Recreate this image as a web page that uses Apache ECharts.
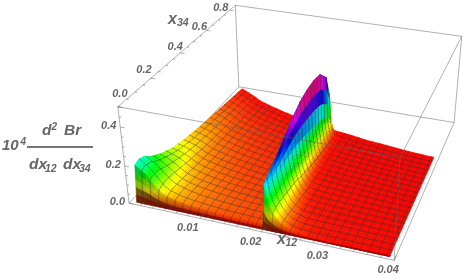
<!DOCTYPE html>
<html><head><meta charset="utf-8">
<style>html,body{margin:0;padding:0;background:#fff}#c{width:463px;height:279px}</style>
<script src="https://cdn.jsdelivr.net/npm/echarts@6/dist/echarts.min.js"></script>
</head><body><div id="c"></div>
<script>
// ---- data ----
var x12Ticks = [0.01, 0.02, 0.03, 0.04];
var x34Ticks = [0.0, 0.2, 0.4, 0.6, 0.8];
var zTicks = [0.0, 0.2, 0.4];
var x12Samples = [-0.001,0.0008,0.002,0.003,0.004,0.006,0.008,0.010,0.012,0.014,0.016,0.018,0.0199,
                  0.0201,0.0205,0.021,0.0215,0.022,0.0225,0.023,0.024,0.025,0.027,0.03,0.035,0.0392];
var rowFractions = [0,0.015,0.04,0.08,0.14,0.2,0.3,0.4,0.5,0.6,0.7,0.8,0.9,0.96,1];
var x34Back = [0.837,0.815,0.80,0.785,0.77,0.75,0.732,0.715,0.70,0.685,0.672,0.66,0.648,
               0.648,0.646,0.645,0.643,0.642,0.64,0.638,0.635,0.63,0.62,0.612,0.595,0.587];
var br = [
[0,.19,.20,.19,.15,.12,.085,.065,.05,.04,.03,.021,.012,.006,.001],
[0,.15,.16,.15,.125,.105,.078,.06,.047,.037,.029,.02,.011,.0055,.001],
[0,.105,.115,.115,.10,.088,.068,.054,.043,.034,.026,.018,.010,.005,.001],
[0,.075,.08,.085,.08,.07,.056,.045,.037,.03,.023,.016,.009,.0045,.001],
[0,.055,.062,.065,.062,.056,.046,.038,.032,.026,.02,.014,.008,.004,.001],
[0,.04,.045,.047,.045,.041,.036,.03,.026,.021,.017,.012,.007,.0035,.001],
[0,.032,.036,.037,.036,.033,.029,.025,.021,.018,.014,.01,.006,.003,.001],
[0,.027,.03,.031,.03,.028,.024,.021,.018,.015,.012,.009,.0055,.003,.001],
[0,.023,.026,.027,.026,.024,.021,.018,.016,.013,.011,.008,.005,.003,.001],
[0,.021,.023,.024,.023,.021,.019,.016,.014,.012,.01,.007,.0045,.0025,.001],
[0,.019,.021,.022,.021,.019,.017,.014,.012,.01,.009,.0065,.004,.0025,.001],
[0,.018,.019,.02,.019,.018,.015,.013,.011,.009,.008,.006,.004,.002,.001],
[0,.017,.018,.019,.018,.017,.014,.012,.01,.009,.007,.0055,.0035,.002,.001],
[0,.22,.24,.25,.27,.29,.33,.37,.40,.415,.42,.41,.35,.22,.001],
[0,.16,.175,.18,.186,.191,.20,.198,.185,.17,.155,.135,.10,.06,.001],
[0,.115,.125,.128,.129,.126,.121,.106,.086,.066,.055,.043,.026,.015,.001],
[0,.085,.09,.092,.089,.083,.074,.057,.04,.027,.02,.014,.008,.005,.001],
[0,.062,.066,.066,.061,.055,.045,.03,.018,.011,.0075,.005,.004,.003,.001],
[0,.046,.048,.047,.042,.036,.027,.016,.0085,.0065,.005,.004,.003,.002,.001],
[0,.034,.035,.034,.029,.024,.0165,.0085,.0055,.0045,.004,.003,.0025,.002,.001],
[0,.019,.019,.018,.014,.0105,.006,.005,.004,.0035,.003,.0025,.002,.0015,.001],
[0,.012,.011,.01,.008,.006,.005,.004,.0035,.003,.0025,.002,.0015,.001,.001],
[0,.006,.006,.006,.005,.0045,.004,.0035,.003,.0025,.002,.002,.0015,.001,.001],
[0,.004,.004,.004,.0035,.003,.003,.0025,.002,.002,.0015,.0015,.001,.001,.0005],
[0,.003,.003,.003,.0025,.0025,.002,.002,.0015,.0015,.001,.001,.001,.0005,.0005],
[0,.002,.002,.002,.002,.002,.0015,.0015,.001,.001,.001,.0005,.0005,.0005,.0005]
];
// ---- view of the 3D box ----
var X12MIN=-0.002, X12MAX=0.04, X34MAX=0.85, ZMAX=0.5, X34MIN=0.012, HUEMAX=0.42;
var camera = [ // u,v,w -> px, py
 [0,0,0,129,203],[1,0,0,394,261],[0,1,0,239,87],[1,1,0,454,122],
 [0,0,1,118,107],[1,0,1,400,157],[0,1,1,235,5],[1,1,1,462,37]];
var P=(function(){
  var A=[],b=[];
  camera.forEach(function(c){var u=c[0],v=c[1],w=c[2],x=c[3],y=c[4];
    A.push([u,v,w,1,0,0,0,0,-x*u,-x*v,-x*w]);b.push(x);
    A.push([0,0,0,0,u,v,w,1,-y*u,-y*v,-y*w]);b.push(y);});
  var n=11,M=[];
  for(var i=0;i<n;i++){M[i]=[];for(var j=0;j<n;j++){var s=0;for(var k=0;k<A.length;k++)s+=A[k][i]*A[k][j];M[i][j]=s;}
    var r=0;for(k=0;k<A.length;k++)r+=A[k][i]*b[k];M[i][n]=r;}
  for(i=0;i<n;i++){var p=i;for(j=i+1;j<n;j++)if(Math.abs(M[j][i])>Math.abs(M[p][i]))p=j;
    var t=M[i];M[i]=M[p];M[p]=t;
    for(j=0;j<n;j++)if(j!==i){var f=M[j][i]/M[i][i];for(k=i;k<=n;k++)M[j][k]-=f*M[i][k];}}
  var out=[];for(i=0;i<n;i++)out[i]=M[i][n]/M[i][i];return out;})();
function proj(u,v,w){var d=P[8]*u+P[9]*v+P[10]*w+1;
  return [(P[0]*u+P[1]*v+P[2]*w+P[3])/d,(P[4]*u+P[5]*v+P[6]*w+P[7])/d];}
function uOf(x){return (x-X12MIN)/(X12MAX-X12MIN);}

// ---- surface lookup ----
function seg(a,x){var i=0;while(i<a.length-2&&x>a[i+1])i++;var f=(x-a[i])/(a[i+1]-a[i]);return [i,Math.max(0,Math.min(1,f))];}
function point(x12,t){
  var c=seg(x12Samples,x12),r=seg(rowFractions,t),i=c[0],j=r[0],f=c[1],g=r[1];
  var z=(br[i][j]*(1-f)+br[i+1][j]*f)*(1-g)+(br[i][j+1]*(1-f)+br[i+1][j+1]*f)*g;
  var back=x34Back[i]*(1-f)+x34Back[i+1]*f;
  var x34=X34MIN+t*(back-X34MIN);
  return {u:uOf(x12),v:x34/X34MAX,w:z/ZMAX,z:z};
}
function uniq(a){a=a.slice().sort(function(p,q){return p-q});var o=[];a.forEach(function(x){if(!o.length||x-o[o.length-1]>1e-7)o.push(x)});return o;}
function refine(a,gap){var o=[];a.forEach(function(x,i){o.push(x);if(i<a.length-1&&a[i+1]-x>gap)o.push((x+a[i+1])/2)});return o;}
var meshX=[],meshT=[],i,j;
var MESHSTEP=0.04/30;
for(i=-15;0.0201+i*MESHSTEP<0.0392;i++){var mx=0.0201+i*MESHSTEP;if(mx>-0.001&&i!==0)meshX.push(mx);}
for(i=1;i<20;i++)meshT.push(i/20);
var fineX=[];for(i=1;i<30;i++)fineX.push(0.0201+i*0.00012);
var fineT=[0.003,0.006,0.009,0.012,0.025];
var gridX=refine(uniq(x12Samples.concat(meshX,fineX)),0.0007);
var gridT=refine(uniq(rowFractions.concat(meshT,fineT)),0.03);
function onMesh(a,x){return a.some(function(m){return Math.abs(m-x)<1e-7});}
var gridPts=gridX.map(function(x){return gridT.map(function(t){return point(x,t)})});
var cells=[];
for(i=0;i<gridX.length-1;i++)for(j=gridT.length-2;j>=0;j--)cells.push([i,j]);

function hsv(h,b){h=((h%1)+1)%1;var k=h*6,s=Math.floor(k),f=k-s,q=1-f,t=f;
  var rgb=[[1,t,0],[q,1,0],[0,1,t],[0,q,1],[t,0,1],[1,0,q]][s%6];
  return 'rgb('+rgb.map(function(c){return Math.round(c*b*255)}).join(',')+')';}
var L=[0.7,0.45,0.9];
function shade(a,b,c,d,tLow){
  var sx=2.6,sy=1.6,sz=1; // box proportions
  var e1=[(c.u-a.u)*sx,(c.v-a.v)*sy,(c.w-a.w)*sz],e2=[(d.u-b.u)*sx,(d.v-b.v)*sy,(d.w-b.w)*sz];
  var n=[e1[1]*e2[2]-e1[2]*e2[1],e1[2]*e2[0]-e1[0]*e2[2],e1[0]*e2[1]-e1[1]*e2[0]];
  var m=Math.sqrt(n[0]*n[0]+n[1]*n[1]+n[2]*n[2])||1;
  if(n[2]<0)m=-m;
  var dot=(n[0]/m*L[0]+Math.abs(n[1]/m)*L[1]+n[2]/m*L[2]);
  var s=Math.min(1,Math.max(0.4,0.42+0.6*Math.max(0,dot)));
  return tLow<0.006?s*0.6:s;
}
var MESH='rgba(50,50,50,0.6)';
function px(p){return proj(p.u,p.v,p.w);}
function renderCell(params,api){
  var ci=api.value(0),cj=api.value(1);
  var a=gridPts[ci][cj],b=gridPts[ci+1][cj],c=gridPts[ci+1][cj+1],d=gridPts[ci][cj+1];
  var pa=px(a),pb=px(b),pc=px(c),pd=px(d);
  var z=(a.z+b.z+c.z+d.z)/4;
  var fill=hsv(z/HUEMAX,shade(a,b,c,d,gridT[cj]));
  var kids=[{type:'polygon',shape:{points:[pa,pb,pc,pd]},style:{fill:fill,stroke:fill,lineWidth:0.6}}];
  function line(p,q){kids.push({type:'line',shape:{x1:p[0],y1:p[1],x2:q[0],y2:q[1]},style:{stroke:MESH,lineWidth:0.7,fill:null}});}
  if(onMesh(meshT,gridT[cj]))line(pa,pb);
  if(onMesh(meshT,gridT[cj+1]))line(pd,pc);
  if(onMesh(meshX,gridX[ci]))line(pa,pd);
  if(onMesh(meshX,gridX[ci+1]))line(pb,pc);
  return {type:'group',children:kids};
}
// ---- box and axes ----
var BOX='rgba(100,100,100,0.5)';
var backEdges=[[0,0,0,0,1,0],[0,1,0,1,1,0],[0,1,0,0,1,1],[1,1,0,1,1,1],[1,0,0,1,1,0]];
var frontEdges=[[0,0,0,1,0,0],[0,0,0,0,0,1],[0,0,1,1,0,1],[1,0,0,1,0,1],[0,0,1,0,1,1],[0,1,1,1,1,1],[1,0,1,1,1,1]];
function renderEdge(params,api){
  var p=proj(api.value(0),api.value(1),api.value(2)),q=proj(api.value(3),api.value(4),api.value(5));
  return {type:'line',shape:{x1:p[0],y1:p[1],x2:q[0],y2:q[1]},style:{stroke:BOX,lineWidth:1,fill:null}};
}
var tickEdges=[];
function addTicks(step,end,major,fn){for(var k=0;k<=Math.round(end/step);k++){var val=k*step;
  var isMajor=Math.abs(val/major-Math.round(val/major))<1e-6;fn(val,isMajor?0.018:0.009);}}
addTicks(0.002,0.04,0.01,function(x,l){var u=uOf(x);tickEdges.push([u,0,0,u,l*1.6,0]);});
addTicks(0.05,0.8,0.2,function(x,l){tickEdges.push([0,x/X34MAX,1,l,x/X34MAX,1]);});
addTicks(0.05,0.5,0.2,function(x,l){tickEdges.push([0,0,x/ZMAX,l,0,x/ZMAX]);});

var GRAY='#666';
var FONT='"Liberation Sans"';
function txt(s,x,y,size,align){return {type:'text',x:x,y:y,silent:true,style:{text:s,fill:GRAY,font:'italic bold '+size+'px '+FONT,textAlign:align||'left',textVerticalAlign:'middle'}};}
var texts=[];
var x12Dx=[-12,-11,-9,-6];
var x34Off=[[2,-13],[-7,-8],[-5,-6],[-7,-3],[-9,-2]];
x12Ticks.forEach(function(v,k){var p=proj(uOf(v),0,0);texts.push(txt(v.toFixed(2),p[0]+x12Dx[k],p[1]+10,11,'center'));});
x34Ticks.forEach(function(v,k){var p=proj(0,v/X34MAX,1);texts.push(txt(v.toFixed(1),p[0]+x34Off[k][0],p[1]+x34Off[k][1],11,'center'));});
zTicks.forEach(function(v){var p=proj(0,0,v/ZMAX);texts.push(txt(v.toFixed(1),p[0]-11.5,p[1]-1,11,'center'));});
texts=texts.concat([
 txt('x',168,20,16),txt('34',177,23,10.5),
 txt('x',277,240,16),txt('12',285.5,243,10.5),
 txt('10',2,146,15),txt('4',20.5,142,10),
 txt('d',42,131,15.5),txt('2',51.5,127,10),txt('Br',64,131,15.5),
 txt('dx',29,165,15.5),txt('12',45,169,10.5),txt('dx',63,165,15.5),txt('34',79,169,10.5),
 {type:'rect',shape:{x:27,y:146,width:66,height:2},style:{fill:'#777'},silent:true}
]);

var chart=echarts.init(document.getElementById('c'),null,{renderer:'canvas',width:463,height:279});
chart.setOption({
  animation:false,
  backgroundColor:'#fff',
  graphic:{elements:texts},
  series:[
   {type:'custom',coordinateSystem:'none',silent:true,z:1,data:backEdges,renderItem:renderEdge,progressive:0,animation:false},
   {type:'custom',coordinateSystem:'none',silent:true,z:2,data:cells,renderItem:renderCell,progressive:0,animation:false},
   {type:'custom',coordinateSystem:'none',silent:true,z:3,data:frontEdges,renderItem:renderEdge,progressive:0,animation:false},
   {type:'custom',coordinateSystem:'none',silent:true,z:3,data:tickEdges,renderItem:renderEdge,progressive:0,animation:false}
  ]
});
</script></body></html>
